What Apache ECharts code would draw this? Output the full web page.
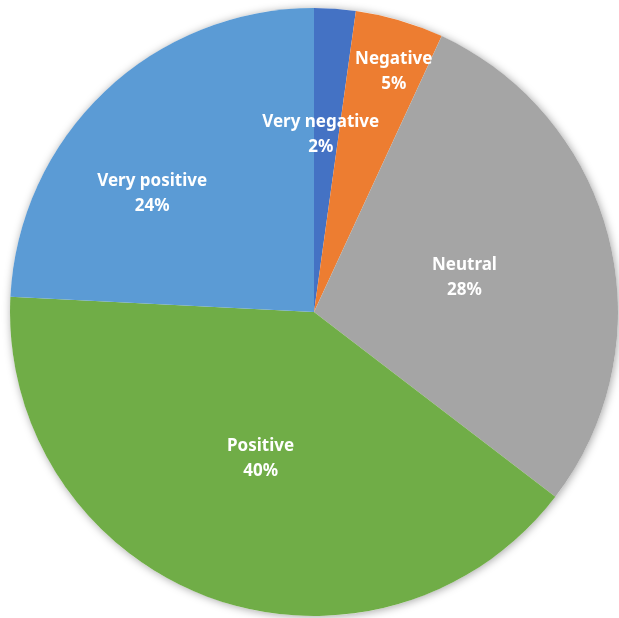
<!DOCTYPE html>
<html>
<head>
<meta charset="utf-8">
<script src="https://cdn.jsdelivr.net/npm/echarts@6/dist/echarts.min.js"></script>
<style>
html,body{margin:0;padding:0;background:#fff;}
#chart{width:619px;height:618px;}
</style>
</head>
<body>
<div id="chart"></div>
<script>
const categories = ['Very negative', 'Negative', 'Neutral', 'Positive', 'Very positive'];
const values = [2.2, 4.7, 28.5, 40.4, 24.2];
// Percent labels as printed on the chart
const percentLabels = ['2%', '5%', '28%', '40%', '24%'];
const colors = ['#4472C4', '#ED7D31', '#A5A5A5', '#70AD47', '#5B9BD5'];
// Label nudges relative to the default inside position (px)
const labelNudges = [[-4, -23], [36, -92], [0, 3], [0, 1], [-55, -6]];

const chart = echarts.init(document.getElementById('chart'), null, {renderer: 'canvas'});
const option = {
  animation: false,
  backgroundColor: '#ffffff',
  series: [
    {
      type: 'pie',
      silent: true,
      z: 1,
      center: [314, 312],
      radius: 304,
      startAngle: 90,
      label: {show: false},
      labelLine: {show: false},
      itemStyle: {
        color: '#ffffff',
        shadowBlur: 8,
        shadowColor: 'rgba(0,0,0,0.35)',
        shadowOffsetX: 1,
        shadowOffsetY: 1
      },
      data: [{value: 1, name: 'bg'}]
    },
    {
      type: 'pie',
      z: 2,
      center: [314, 312],
      radius: 304,
      startAngle: 90,
      clockwise: true,
      avoidLabelOverlap: false,
      itemStyle: {borderWidth: 0},
      label: {
        show: true,
        position: 'inside',
        color: '#ffffff',
        fontFamily: 'Noto Sans',
        fontWeight: 'bold',
        fontSize: 17,
        lineHeight: 25,
        align: 'center',
        formatter: function (p) {
          return p.name + '\n' + percentLabels[p.dataIndex];
        }
      },
      labelLine: {show: false},
      labelLayout: function (params) {
        const n = labelNudges[params.dataIndex];
        return {dx: n[0], dy: n[1]};
      },
      data: categories.map(function (c, i) {
        return {name: c, value: values[i], itemStyle: {color: colors[i]}};
      })
    }
  ]
};
chart.setOption(option);
</script>
</body>
</html>
